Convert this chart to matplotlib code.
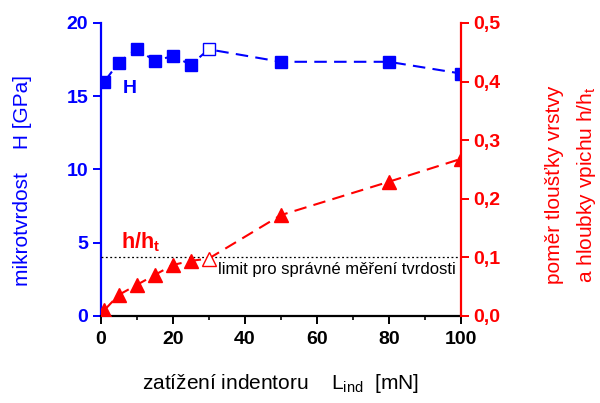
import matplotlib
matplotlib.use("Agg")
import matplotlib.pyplot as plt
from matplotlib.ticker import MultipleLocator, FuncFormatter

plt.rcParams['font.family'] = ['Liberation Sans', 'DejaVu Sans']

# === data ===
zatizeni = [1, 5, 10, 15, 20, 25, 30, 50, 80, 100]
tvrdost = [16.0, 17.3, 18.25, 17.4, 17.75, 17.15, 18.2, 17.35, 17.35, 16.55]
pomer = [0.010, 0.036, 0.053, 0.070, 0.087, 0.094, 0.098, 0.172, 0.229, 0.268]
otevreny_bod = 30  # bod na hranici limitu (prazdny symbol)
limit_pomer = 0.1

modra = '#0000ff'
cervena = '#ff0000'
carkovani = (0, (6, 3.5))

fig = plt.figure(figsize=(6.0, 4.03), dpi=100)
ax = fig.add_axes([0.168, 0.216, 0.600, 0.727])
ax2 = ax.twinx()

# === mikrotvrdost H ===
i0 = zatizeni.index(otevreny_bod)
ax.plot(zatizeni, tvrdost, color=modra, lw=1.5, ls=carkovani, zorder=2)
plein = [i for i in range(len(zatizeni)) if i != i0]
ax.plot([zatizeni[i] for i in plein], [tvrdost[i] for i in plein], 's',
        color=modra, ms=8, zorder=3)
ax.plot(zatizeni[i0], tvrdost[i0], 's', mfc='white', mec=modra, mew=1.0, ms=8, zorder=3)

# === pomer h/ht ===
ax2.plot(zatizeni, pomer, color=cervena, lw=1.5, ls=carkovani, zorder=2)
ax2.plot([zatizeni[i] for i in plein], [pomer[i] for i in plein], '^',
         color=cervena, ms=9.5, zorder=3)
ax2.plot(zatizeni[i0], pomer[i0], '^', mfc='white', mec=cervena, mew=1.0, ms=9.5, zorder=3)
ax2.axhline(limit_pomer, color='black', lw=0.9, ls=(0, (1.5, 2)), zorder=1)

# === osy ===
ax.set_xlim(0, 100)
ax.set_ylim(0, 20)
ax2.set_ylim(0, 0.5)
ax.xaxis.set_major_locator(MultipleLocator(20))
ax.xaxis.set_minor_locator(MultipleLocator(10))
ax.yaxis.set_major_locator(MultipleLocator(5))
ax2.yaxis.set_major_locator(MultipleLocator(0.1))
ax2.yaxis.set_major_formatter(FuncFormatter(lambda v, p: f"{v:.1f}".replace('.', ',')))

for a in (ax, ax2):
    a.spines['top'].set_visible(False)
    for s in a.spines.values():
        s.set_linewidth(1.6)
ax.spines['left'].set_color(modra)
ax.spines['right'].set_visible(False)
ax2.spines['left'].set_visible(False)
ax2.spines['bottom'].set_visible(False)
ax2.spines['right'].set_color(cervena)

ax.tick_params(axis='x', which='major', direction='out', length=6, width=1.4,
               labelsize=14, pad=5)
ax.tick_params(axis='x', which='minor', direction='out', length=3, width=1.2)
ax.tick_params(axis='y', direction='out', length=6, width=1.4, color=modra,
               labelcolor=modra, labelsize=14, pad=3)
ax2.tick_params(axis='y', direction='out', length=6, width=1.4, color=cervena,
                labelcolor=cervena, labelsize=14, pad=3)
for lab in ax.get_xticklabels() + ax.get_yticklabels() + ax2.get_yticklabels():
    lab.set_fontweight('bold')

ax.set_ylabel('mikrotvrdost    H [GPa]', color=modra, fontsize=15)
ax.yaxis.set_label_coords(-0.192, 0.464)
ax2.set_ylabel('poměr tloušťky vrstvy\na hloubky vpichu h/h$_\\mathregular{t}$',
               color=cervena, fontsize=15, linespacing=1.65)
ax2.yaxis.set_label_coords(1.233, 0.447)
ax.set_xlabel('zatížení indentoru    L$_\\mathregular{ind}$  [mN]', fontsize=15, labelpad=17)

# === popisky ===
ax.text(6.0, 15.2, 'H', color=modra, fontsize=14, fontweight='bold')
ax.text(5.5, 4.6, 'h/h$_\\mathregular{t}$', color=cervena, fontsize=15.5, fontweight='bold')
ax.text(32.5, 2.85, 'limit pro správné měření tvrdosti', color='black', fontsize=12)

fig.savefig('out.png', dpi=100)
